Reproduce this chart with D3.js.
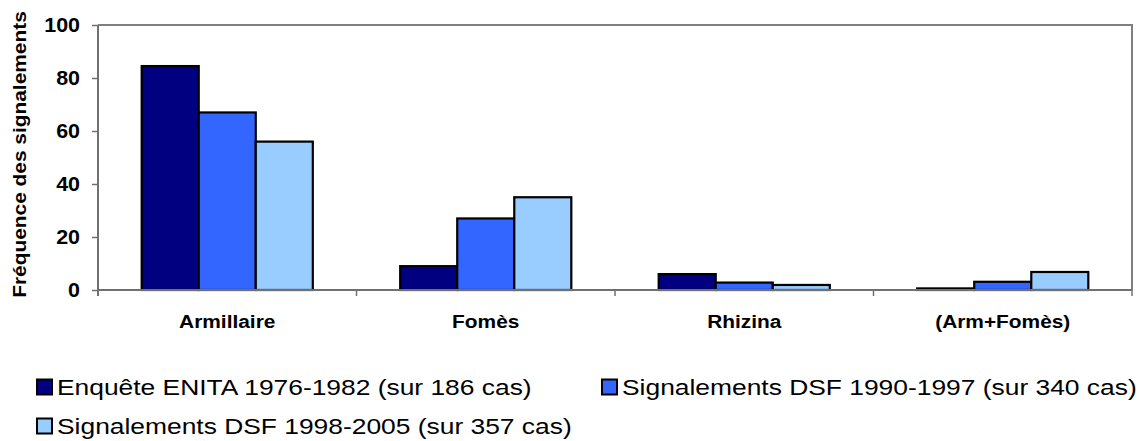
<!DOCTYPE html>
<html>
<head>
<meta charset="utf-8">
<script src="https://cdn.jsdelivr.net/npm/d3@7"></script>
<style>
	body { margin: 0; background: #fff; }
	text { font-family: "Liberation Sans", Arial, sans-serif; }
</style>
</head>
<body>
<svg id="chart" width="1140" height="441"></svg>
<script>
	'use strict';

	var categories = ['Armillaire', 'Fomès', 'Rhizina', '(Arm+Fomès)'];
	var seriesNames = [
		'Enquête ENITA 1976-1982 (sur 186 cas)',
		'Signalements DSF 1990-1997 (sur 340 cas)',
		'Signalements DSF 1998-2005 (sur 357 cas)'
	];
	var enita = [84.5, 9, 6, 0.6];
	var dsf1990 = [67, 27, 2.8, 3.1];
	var dsf1998 = [56, 35, 1.9, 6.8];
	var yTicks = [0, 20, 40, 60, 80, 100];
	var colors = ['#000080', '#3366ff', '#99ccff'];

	var values = [enita, dsf1990, dsf1998];

	var svg = d3.select('#chart');
	var plotLeft = 98, plotRight = 1132, plotTop = 25, plotBottom = 290;
	// the original text is drawn a little wider than Arial
	var stretch = 1.16;

	var x0 = d3.scaleBand()
		.domain(categories)
		.range([plotLeft, plotRight])
		.paddingInner(0.338)
		.paddingOuter(0.169);

	var x1 = d3.scaleBand()
		.domain(d3.range(seriesNames.length))
		.range([0, x0.bandwidth()]);

	var y = d3.scaleLinear().domain([0, 100]).range([plotBottom, plotTop]);

	// plot frame (top and right)
	svg.append('path')
		.attr('d', 'M' + plotLeft + ',' + plotTop + 'H' + plotRight + 'V' + plotBottom)
		.attr('fill', 'none')
		.attr('stroke', '#808080')
		.attr('stroke-width', 2);

	// bars
	var groups = svg.selectAll('.group')
		.data(categories)
		.enter().append('g')
		.attr('class', 'group')
		.attr('transform', function (d) { return 'translate(' + x0(d) + ',0)'; });

	groups.selectAll('rect')
		.data(function (d, i) {
			return values.map(function (s, k) { return {k: k, v: s[i]}; });
		})
		.enter().append('rect')
		.attr('x', function (d) { return x1(d.k); })
		.attr('y', function (d) { return y(d.v); })
		.attr('width', x1.bandwidth())
		.attr('height', function (d) { return y(0) - y(d.v); })
		.attr('fill', function (d) { return colors[d.k]; })
		.attr('stroke', '#000')
		.attr('stroke-width', 2.2);

	// y axis
	var yAxis = svg.append('g')
		.attr('transform', 'translate(' + plotLeft + ',0)')
		.call(d3.axisLeft(y).tickValues(yTicks).tickSize(6).tickPadding(12));
	yAxis.select('.domain').attr('stroke', '#707070').attr('stroke-width', 2)
		.attr('d', 'M0,' + plotTop + 'V' + (plotBottom + 6));
	yAxis.selectAll('.tick line').attr('stroke', '#707070').attr('stroke-width', 1.5);
	yAxis.selectAll('.tick text')
		.attr('fill', '#000')
		.attr('x', 0)
		.attr('transform', 'translate(-18,0) scale(1.1,1)')
		.style('font-size', '19.5px')
		.style('font-weight', 'bold');

	// x axis with boundary ticks
	var xAxis = svg.append('g').attr('transform', 'translate(0,' + plotBottom + ')');
	xAxis.append('line')
		.attr('x1', plotLeft).attr('x2', plotRight)
		.attr('stroke', '#707070').attr('stroke-width', 2);
	xAxis.selectAll('.btick')
		.data(d3.range(categories.length + 1))
		.enter().append('line')
		.attr('class', 'btick')
		.attr('x1', function (i) { return plotLeft + i * x0.step(); })
		.attr('x2', function (i) { return plotLeft + i * x0.step(); })
		.attr('y1', 0).attr('y2', 6)
		.attr('stroke', '#707070').attr('stroke-width', 1.5);
	xAxis.selectAll('.clabel')
		.data(categories)
		.enter().append('text')
		.attr('class', 'clabel')
		.attr('transform', function (d) {
			return 'translate(' + (x0(d) + x0.bandwidth() / 2) + ',38) scale(' + stretch + ',1)';
		})
		.attr('text-anchor', 'middle')
		.style('font-size', '18px')
		.style('font-weight', 'bold')
		.text(function (d) { return d; });

	// y title
	svg.append('text')
		.attr('transform', 'translate(26,' + ((plotTop + plotBottom) / 2 - 3) + ') rotate(-90) scale(' + stretch + ',1)')
		.attr('text-anchor', 'middle')
		.style('font-size', '18px')
		.style('font-weight', 'bold')
		.text('Fréquence des signalements');

	// legend
	var legendPos = [[36, 387], [601, 387], [36, 426]];
	var legend = svg.selectAll('.legend')
		.data(seriesNames)
		.enter().append('g')
		.attr('class', 'legend')
		.attr('transform', function (d, i) { return 'translate(' + legendPos[i][0] + ',' + legendPos[i][1] + ')'; });
	legend.append('rect')
		.attr('x', 1).attr('y', -7.5)
		.attr('width', 15).attr('height', 15)
		.attr('fill', function (d, i) { return colors[i]; })
		.attr('stroke', '#000')
		.attr('stroke-width', 2);
	legend.append('text')
		.attr('transform', 'translate(21,8) scale(1.2,1)')
		.style('font-size', '22px')
		.text(function (d) { return d; });
</script>
</body>
</html>
